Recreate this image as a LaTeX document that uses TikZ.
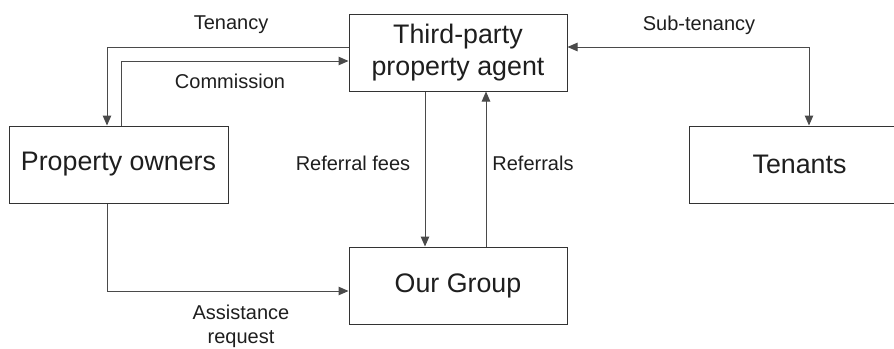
\documentclass[tikz,border=0pt]{standalone}
\usepackage{fontspec}
\setmainfont{Liberation Sans}
\usetikzlibrary{arrows.meta}
\definecolor{boxline}{HTML}{333333}
\definecolor{conline}{HTML}{4A4A4A}
\definecolor{txt}{HTML}{1E1E1E}
\tikzset{
  box/.style={draw=boxline, line width=1pt, minimum height=77pt, inner sep=0pt,
              align=center, font=\fontsize{26.8}{32}\selectfont, text=txt},
  lbl/.style={font=\fontsize{20}{24}\selectfont, text=txt, inner sep=0pt, align=center},
  conn/.style={draw=conline, line width=1pt, -{Triangle[length=10pt,width=8.5pt]}},
  conn2/.style={draw=conline, line width=1pt, {Triangle[length=10pt,width=8.5pt]}-{Triangle[length=10pt,width=8.5pt]}}
}
\begin{document}
\begin{tikzpicture}[x=1pt,y=-1pt]
\useasboundingbox (0,0) rectangle (894,348);
\node[box, minimum width=218pt] (agent) at (458,52.5) {Third-party\\property agent};
\node[box, minimum width=219pt] (owners) at (118.5,164.5) {Property owners};
\node[box, minimum width=221pt] (tenants) at (799.5,164.5) {Tenants};
\node[box, minimum width=218pt] (group) at (458,285.5) {Our Group};

\draw[conn] (agent.west |- 0,47) -| (owners.north -| 107,0);
\draw[conn] (owners.north -| 121,0) |- (agent.west |- 0,61);
\draw[conn2] (agent.east |- 0,47) -| (tenants.north -| 809,0);
\draw[conn] (agent.south -| 425,0) -- (group.north -| 425,0);
\draw[conn] (group.north -| 486,0) -- (agent.south -| 486,0);
\draw[conn] (owners.south -| 107,0) |- (group.west |- 0,291);

\node[lbl] (tTenancy) at (231,25) {Tenancy};
\node[lbl] (tCommission) at (230,81) {Commission};
\node[lbl] (tSub) at (699,25) {Sub-tenancy};
\node[lbl] (tFees) at (353,163) {Referral fees};
\node[lbl] (tRef) at (533,163) {Referrals};
\node[lbl] (tAssist) at (241,326) {Assistance\\request};
\end{tikzpicture}
\end{document}
